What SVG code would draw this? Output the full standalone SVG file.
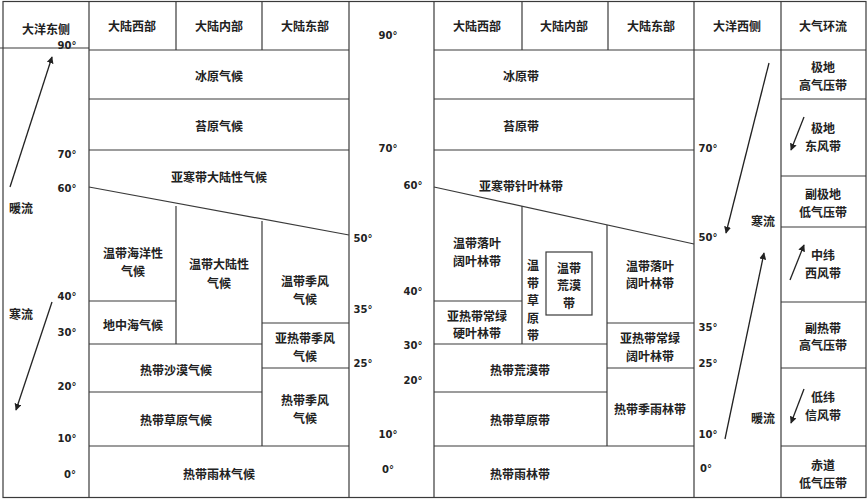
<svg xmlns="http://www.w3.org/2000/svg" width="868" height="500" viewBox="0 0 868 500">
<defs>
<style>
.ln{stroke:#3a3a3a;stroke-width:1.2;fill:none}
.t{font-family:"Noto Sans CJK SC","Noto Sans",sans-serif;font-size:12px;font-weight:bold;fill:#222;text-anchor:middle;dominant-baseline:central}
.d{font-family:"DejaVu Sans","Liberation Sans",sans-serif;font-size:10px;font-weight:bold;fill:#222;text-anchor:middle;dominant-baseline:central}
.ar{stroke:#222;stroke-width:1.3;fill:none}
</style>
<marker id="ah" viewBox="0 0 10 10" refX="9" refY="5" markerWidth="7" markerHeight="7" orient="auto" markerUnits="userSpaceOnUse">
<path d="M0,0 L10,5 L0,10 z" fill="#222"/>
</marker>
</defs>
<rect x="0" y="0" width="868" height="500" fill="#fff"/>
<g id="grid">
<rect class="ln" x="3" y="1.5" width="863" height="496"/>
<line class="ln" x1="0" y1="48" x2="89" y2="48"/>
<line class="ln" x1="89" y1="50" x2="349" y2="50"/>
<line class="ln" x1="434" y1="50" x2="866" y2="50"/>
<line class="ln" x1="89" y1="1.5" x2="89" y2="497.5"/>
<line class="ln" x1="176" y1="1.5" x2="176" y2="50"/>
<line class="ln" x1="262" y1="1.5" x2="262" y2="50"/>
<line class="ln" x1="349" y1="1.5" x2="349" y2="497.5"/>
<line class="ln" x1="434" y1="1.5" x2="434" y2="497.5"/>
<line class="ln" x1="522" y1="1.5" x2="522" y2="50"/>
<line class="ln" x1="608" y1="1.5" x2="608" y2="50"/>
<line class="ln" x1="694" y1="1.5" x2="694" y2="497.5"/>
<line class="ln" x1="781" y1="1.5" x2="781" y2="497.5"/>
</g>
<g id="connectors">
<line class="ln" x1="89" y1="99" x2="349" y2="99"/>
<line class="ln" x1="89" y1="150" x2="349" y2="150"/>
<line class="ln" x1="89" y1="187" x2="349" y2="235"/>
<line class="ln" x1="176" y1="206" x2="176" y2="344"/>
<line class="ln" x1="262" y1="221" x2="262" y2="446"/>
<line class="ln" x1="89" y1="301" x2="176" y2="301"/>
<line class="ln" x1="89" y1="344" x2="262" y2="344"/>
<line class="ln" x1="262" y1="323" x2="349" y2="323"/>
<line class="ln" x1="262" y1="368" x2="349" y2="368"/>
<line class="ln" x1="89" y1="392" x2="262" y2="392"/>
<line class="ln" x1="89" y1="446" x2="349" y2="446"/>
<line class="ln" x1="434" y1="99" x2="694" y2="99"/>
<line class="ln" x1="434" y1="150" x2="694" y2="150"/>
<line class="ln" x1="434" y1="187" x2="694" y2="244"/>
<line class="ln" x1="522" y1="206" x2="522" y2="344"/>
<line class="ln" x1="607" y1="225" x2="607" y2="446"/>
<line class="ln" x1="434" y1="301" x2="522" y2="301"/>
<line class="ln" x1="434" y1="344" x2="607" y2="344"/>
<line class="ln" x1="607" y1="323" x2="694" y2="323"/>
<line class="ln" x1="607" y1="368" x2="694" y2="368"/>
<line class="ln" x1="434" y1="392" x2="607" y2="392"/>
<line class="ln" x1="434" y1="446" x2="694" y2="446"/>
<rect class="ln" x="546" y="252" width="46" height="63"/>
<line class="ln" x1="781" y1="99" x2="866" y2="99"/>
<line class="ln" x1="781" y1="176" x2="866" y2="176"/>
<line class="ln" x1="781" y1="227" x2="866" y2="227"/>
<line class="ln" x1="781" y1="302" x2="866" y2="302"/>
<line class="ln" x1="781" y1="368" x2="866" y2="368"/>
<line class="ln" x1="781" y1="446" x2="866" y2="446"/>
<line class="ar" x1="10" y1="187" x2="52" y2="57" marker-end="url(#ah)"/>
<line class="ar" x1="52" y1="302" x2="16" y2="410" marker-end="url(#ah)"/>
<line class="ar" x1="769" y1="63" x2="726" y2="233" marker-end="url(#ah)"/>
<line class="ar" x1="725" y1="439" x2="764" y2="253" marker-end="url(#ah)"/>
<line class="ar" x1="804" y1="117" x2="791" y2="150" marker-end="url(#ah)"/>
<line class="ar" x1="790" y1="280" x2="804" y2="245" marker-end="url(#ah)"/>
<line class="ar" x1="804" y1="389" x2="791" y2="423" marker-end="url(#ah)"/>
</g>
<g id="headers">
<text class="t" x="46" y="28">大洋东侧</text>
<text class="t" x="132" y="25">大陆西部</text>
<text class="t" x="219" y="25">大陆内部</text>
<text class="t" x="305" y="25">大陆东部</text>
<text class="t" x="477" y="25">大陆西部</text>
<text class="t" x="564" y="25">大陆内部</text>
<text class="t" x="651" y="25">大陆东部</text>
<text class="t" x="737" y="25">大洋西侧</text>
<text class="t" x="823" y="25">大气环流</text>
</g>
<g id="left-ocean">
<text class="t" x="21" y="207">暖流</text>
<text class="t" x="21" y="313">寒流</text>
<text class="d" x="67" y="45">90°</text>
<text class="d" x="67" y="154">70°</text>
<text class="d" x="67" y="188">60°</text>
<text class="d" x="67" y="296">40°</text>
<text class="d" x="67" y="332">30°</text>
<text class="d" x="67" y="386">20°</text>
<text class="d" x="67" y="438">10°</text>
<text class="d" x="70" y="474">0°</text>
</g>
<g id="climate">
<text class="t" x="219" y="75">冰原气候</text>
<text class="t" x="219" y="125">苔原气候</text>
<text class="t" x="219" y="176">亚寒带大陆性气候</text>
<text class="t" x="133" y="252">温带海洋性</text>
<text class="t" x="133" y="270">气候</text>
<text class="t" x="219" y="263">温带大陆性</text>
<text class="t" x="219" y="282">气候</text>
<text class="t" x="305" y="280">温带季风</text>
<text class="t" x="305" y="298">气候</text>
<text class="t" x="133" y="324">地中海气候</text>
<text class="t" x="305" y="337">亚热带季风</text>
<text class="t" x="305" y="355">气候</text>
<text class="t" x="176" y="369">热带沙漠气候</text>
<text class="t" x="176" y="419">热带草原气候</text>
<text class="t" x="305" y="399">热带季风</text>
<text class="t" x="305" y="417">气候</text>
<text class="t" x="219" y="473">热带雨林气候</text>
</g>
<g id="mid-lat">
<text class="d" x="388" y="35">90°</text>
<text class="d" x="388" y="148">70°</text>
<text class="d" x="413" y="185">60°</text>
<text class="d" x="363" y="238">50°</text>
<text class="d" x="413" y="291">40°</text>
<text class="d" x="363" y="309">35°</text>
<text class="d" x="413" y="345">30°</text>
<text class="d" x="363" y="363">25°</text>
<text class="d" x="413" y="380">20°</text>
<text class="d" x="388" y="434">10°</text>
<text class="d" x="388" y="469">0°</text>
</g>
<g id="vegetation">
<text class="t" x="521" y="75">冰原带</text>
<text class="t" x="521" y="125">苔原带</text>
<text class="t" x="521" y="185">亚寒带针叶林带</text>
<text class="t" x="477" y="242">温带落叶</text>
<text class="t" x="477" y="260">阔叶林带</text>
<text class="t" x="533" y="264">温</text>
<text class="t" x="533" y="282">带</text>
<text class="t" x="533" y="299">草</text>
<text class="t" x="533" y="317">原</text>
<text class="t" x="533" y="334">带</text>
<text class="t" x="569" y="267">温带</text>
<text class="t" x="569" y="284">荒漠</text>
<text class="t" x="569" y="302">带</text>
<text class="t" x="650" y="265">温带落叶</text>
<text class="t" x="650" y="282">阔叶林带</text>
<text class="t" x="477" y="315">亚热带常绿</text>
<text class="t" x="477" y="332">硬叶林带</text>
<text class="t" x="650" y="337">亚热带常绿</text>
<text class="t" x="650" y="355">阔叶林带</text>
<text class="t" x="520" y="369">热带荒漠带</text>
<text class="t" x="520" y="419">热带草原带</text>
<text class="t" x="650" y="408">热带季雨林带</text>
<text class="t" x="520" y="473">热带雨林带</text>
</g>
<g id="right-ocean">
<text class="t" x="763" y="220">寒流</text>
<text class="t" x="763" y="417">暖流</text>
<text class="d" x="708" y="148">70°</text>
<text class="d" x="708" y="237">50°</text>
<text class="d" x="708" y="327">35°</text>
<text class="d" x="708" y="363">25°</text>
<text class="d" x="708" y="434">10°</text>
<text class="d" x="706" y="468">0°</text>
</g>
<g id="circulation">
<text class="t" x="823" y="66">极地</text>
<text class="t" x="823" y="84">高气压带</text>
<text class="t" x="823" y="127">极地</text>
<text class="t" x="823" y="145">东风带</text>
<text class="t" x="823" y="193">副极地</text>
<text class="t" x="823" y="211">低气压带</text>
<text class="t" x="823" y="254">中纬</text>
<text class="t" x="823" y="272">西风带</text>
<text class="t" x="823" y="327">副热带</text>
<text class="t" x="823" y="344">高气压带</text>
<text class="t" x="823" y="396">低纬</text>
<text class="t" x="823" y="414">信风带</text>
<text class="t" x="823" y="464">赤道</text>
<text class="t" x="823" y="482">低气压带</text>
</g>
</svg>
